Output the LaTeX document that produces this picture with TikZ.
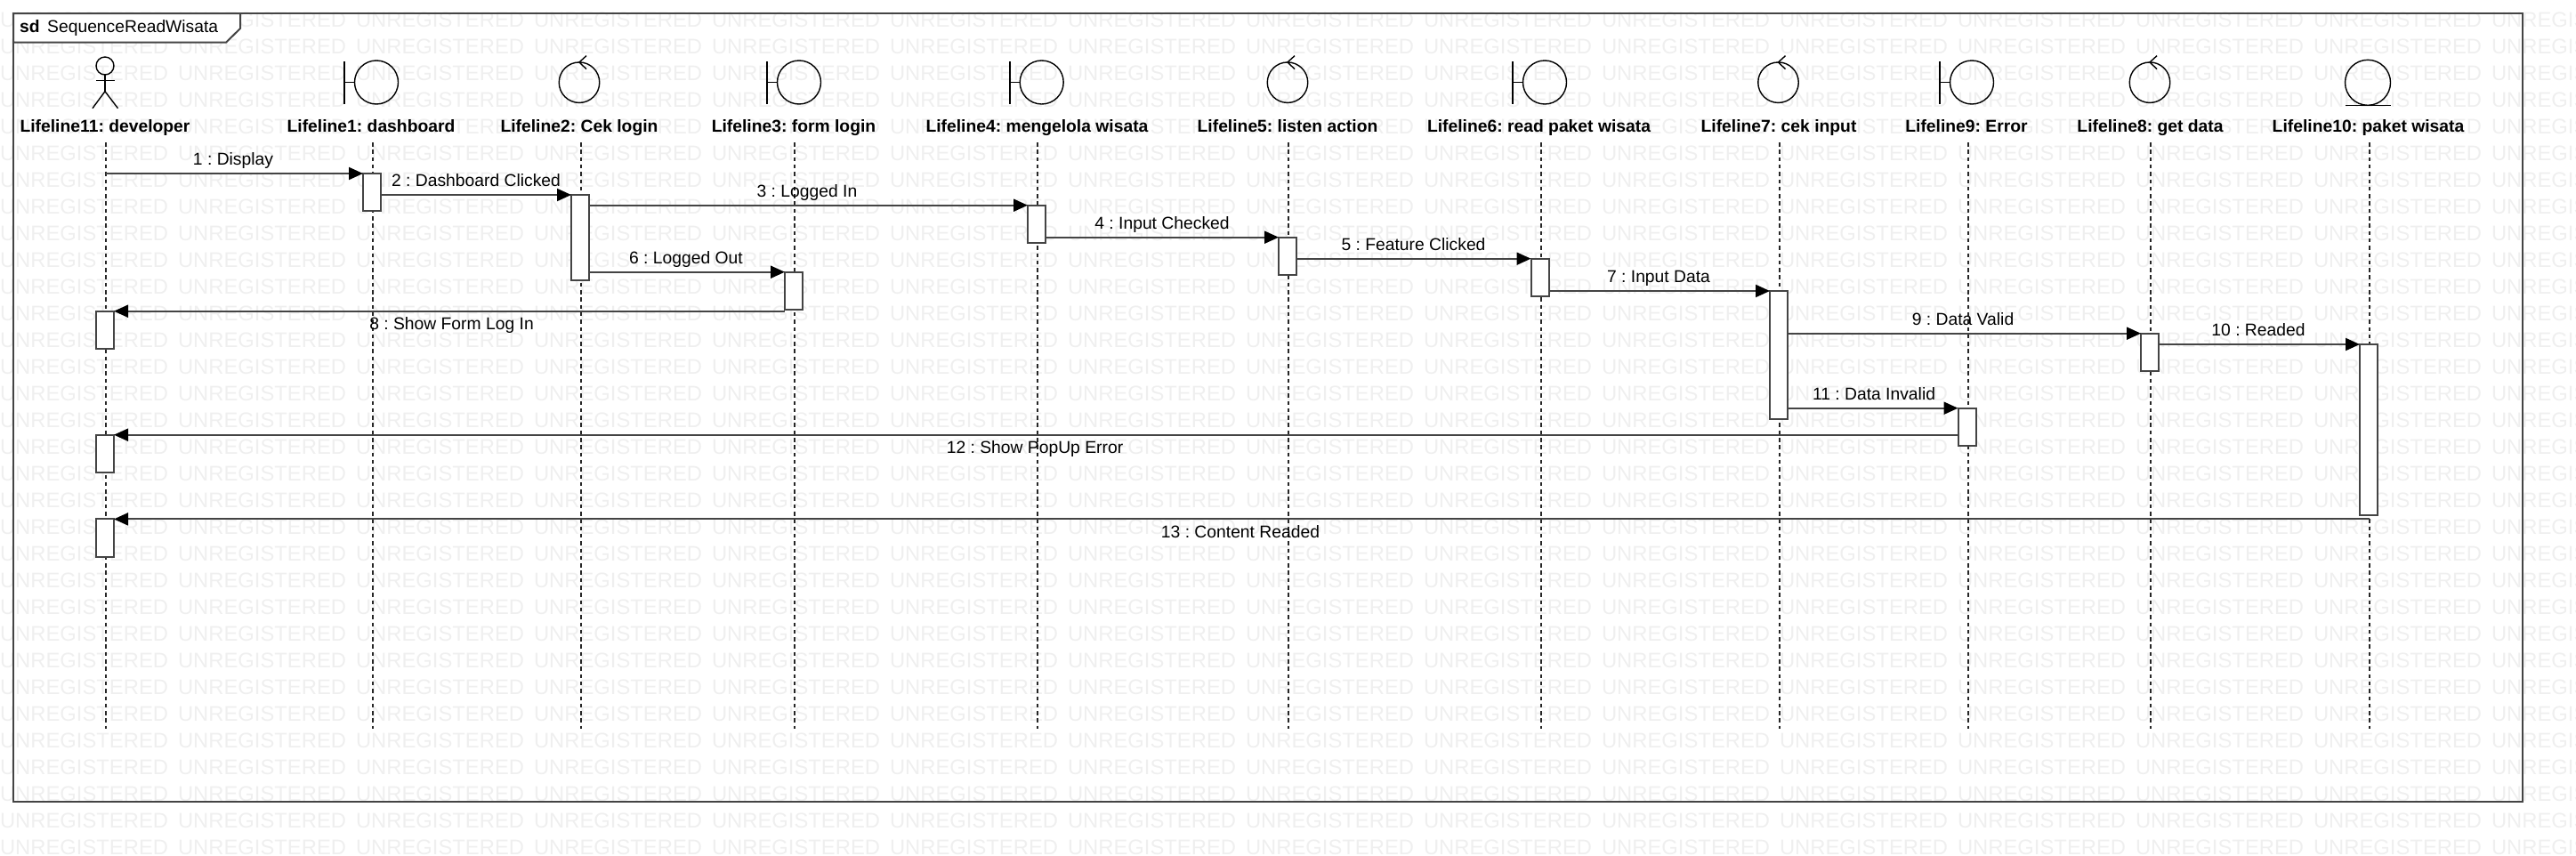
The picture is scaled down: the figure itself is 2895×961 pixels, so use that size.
\documentclass[tikz,border=0pt]{standalone}
\usepackage{fontspec}
\setmainfont{Liberation Sans}
\usetikzlibrary{arrows.meta,calc}
\definecolor{wmgray}{HTML}{EFEFEF}
\definecolor{linegray}{HTML}{444444}
\newcommand{\txtfont}{\fontsize{19.3}{23}\selectfont\frenchspacing}
\tikzset{
  wmark/.style={anchor=base west,inner sep=0pt,outer sep=0pt,text=wmgray,font=\fontsize{23.8}{29}\selectfont},
  frameline/.style={draw=linegray,line width=2pt},
  iconline/.style={draw=black,line width=1.4pt},
  ring/.style={circle,iconline,inner sep=0pt,outer sep=0pt,minimum size=#1},
  lifeline/.style={draw=black!85,line width=1.3pt,dash pattern=on 4.5pt off 3.8pt},
  activ/.style={rectangle,draw=linegray,line width=2pt,fill=white,inner sep=0pt,outer sep=0pt,minimum width=20pt,anchor=north},
  msg/.style={draw=linegray,line width=2pt,-{Triangle[length=16pt,width=14pt,color=black]}},
  lifename/.style={anchor=base,inner sep=0pt,font=\txtfont\bfseries},
  msgname/.style={anchor=base,inner sep=0pt,font=\txtfont},
}
\newcommand{\boundaryicon}[3]{%
  \node[ring=49pt] (#1) at (#3,92.5) {};
  \coordinate (#1-bar) at (#2,92.5);
  \coordinate (#1-bartop) at (#2,69);
  \coordinate (#1-barbot) at (#2,117);
  \draw[iconline] (#1-bartop) -- (#1-barbot);
  \draw[iconline] (#1-bar) -- (#1.west);
}
\newcommand{\controlicon}[2]{%
  \node[ring=45.5pt] (#1) at (#2,92.7) {};
  \coordinate (#1-up) at ($(#1.north)+(8,-7.3)$);
  \coordinate (#1-dn) at ($(#1.north)+(8,7.7)$);
  \draw[iconline] (#1-up) -- (#1.north) -- (#1-dn);
}
\begin{document}
\begin{tikzpicture}[x=1pt,y=-1pt]
\useasboundingbox (0,0) rectangle (2895,961);
% watermark
\foreach \col in {0,...,14}{
  \foreach \row in {0,...,31}{
    \node[wmark] (wm-\col-\row) at ({\col*200},{30+\row*30}) {UNREGISTERED};
  }
}
% frame
\coordinate (frTL) at (15,15);
\coordinate (frBR) at (2835,901);
\draw[frameline] (frTL) rectangle (frBR);
\draw[frameline,fill=white] (15,15) -- (270,15) -- (270,32) -- (254,47.7) -- (15,47.7) -- cycle;
\node[anchor=base west,inner sep=0pt,font=\txtfont\bfseries] (sd) at (22,36.7) {sd};
\node[anchor=base west,inner sep=0pt,font=\txtfont] (title) at (53,36.7) {SequenceReadWisata};
% icons
\node[ring=20pt] (actorhead) at (118,74) {};
\coordinate (actorhip) at (118,102.7);
\coordinate (actorarmL) at (108,90.3);
\coordinate (actorarmR) at (128.5,90.3);
\coordinate (actorlegL) at (104,121.7);
\coordinate (actorlegR) at (132.5,121.7);
\draw[iconline] (actorhead.south) -- (actorhip);
\draw[iconline] (actorarmL) -- (actorarmR);
\draw[iconline] (actorlegL) -- (actorhip) -- (actorlegR);
\boundaryicon{b1}{387}{423}
\boundaryicon{b3}{862}{898}
\boundaryicon{b4}{1135}{1170.7}
\boundaryicon{b6}{1700}{1736}
\boundaryicon{b9}{2180}{2216}
\controlicon{c2}{651}
\controlicon{c5}{1447}
\controlicon{c7}{1998.5}
\controlicon{c8}{2416}
\node[ring=51pt] (e10) at (2661,92.8) {};
\coordinate (e10-l) at (2635.6,118.3);
\coordinate (e10-r) at (2687,118.3);
\draw[iconline] (e10-l) -- (e10-r);
% lifeline names
\node[lifename] (n11) at (118,148) {Lifeline11: developer};
\node[lifename] (n1) at (417,148) {Lifeline1: dashboard};
\node[lifename] (n2) at (651,148) {Lifeline2: Cek login};
\node[lifename] (n3) at (892,148) {Lifeline3: form login};
\node[lifename] (n4) at (1165.5,148) {Lifeline4: mengelola wisata};
\node[lifename] (n5) at (1447,148) {Lifeline5: listen action};
\node[lifename] (n6) at (1729.5,148) {Lifeline6: read paket wisata};
\node[lifename] (n7) at (1999,148) {Lifeline7: cek input};
\node[lifename] (n9) at (2210,148) {Lifeline9: Error};
\node[lifename] (n8) at (2416.5,148) {Lifeline8: get data};
\node[lifename] (n10) at (2661.5,148) {Lifeline10: paket wisata};
% lifelines
\foreach \nm/\xx in {L11/119,L1/419,L2/653,L3/893,L4/1166,L5/1448,L6/1732,L7/2000,L9/2212,L8/2417,L10/2663}{
  \coordinate (\nm-top) at (\xx,160);
  \coordinate (\nm-bot) at (\xx,819);
  \draw[lifeline] (\nm-top) -- (\nm-bot);
}
% activations
\node[activ,minimum height=42pt] (a1) at (418,195) {};
\node[activ,minimum height=96pt] (a2) at (652,219) {};
\node[activ,minimum height=42.3pt] (a3) at (892,305.7) {};
\node[activ,minimum height=42.3pt] (a4) at (1165,230.7) {};
\node[activ,minimum height=42.3pt] (a5) at (1447,266.7) {};
\node[activ,minimum height=42pt] (a6) at (1730.5,290.7) {};
\node[activ,minimum height=144pt] (a7) at (1999,327) {};
\node[activ,minimum height=42.3pt] (a8) at (2416,374.7) {};
\node[activ,minimum height=42.6pt] (a9) at (2210.5,458.7) {};
\node[activ,minimum height=192pt] (a10) at (2662,387) {};
\node[activ,minimum height=41.8pt] (a11a) at (118,349.7) {};
\node[activ,minimum height=42.3pt] (a11b) at (118,488.7) {};
\node[activ,minimum height=42.6pt] (a11c) at (118,583.4) {};
% messages
\draw[msg] (L11-top |- a1.north) -- (a1.north west);
\draw[msg] (a1.east |- a2.north) -- (a2.north west);
\draw[msg] (a2.east |- a4.north) -- (a4.north west);
\draw[msg] (a4.east |- a5.north) -- (a5.north west);
\draw[msg] (a5.east |- a6.north) -- (a6.north west);
\draw[msg] (a2.east |- a3.north) -- (a3.north west);
\draw[msg] (a6.east |- a7.north) -- (a7.north west);
\draw[msg] (a3.west |- a11a.north) -- (a11a.north east);
\draw[msg] (a7.east |- a8.north) -- (a8.north west);
\draw[msg] (a8.east |- a10.north) -- (a10.north west);
\draw[msg] (a7.east |- a9.north) -- (a9.north west);
\draw[msg] (a9.west |- a11b.north) -- (a11b.north east);
\draw[msg] (L10-top |- a11c.north) -- (a11c.north east);
% message labels
\node[msgname] (m1) at (262,185.3) {1 : Display};
\node[msgname] (m2) at (535,209.3) {2 : Dashboard Clicked};
\node[msgname] (m3) at (907,221) {3 : Logged In};
\node[msgname] (m4) at (1306,257) {4 : Input Checked};
\node[msgname] (m5) at (1588.5,281) {5 : Feature Clicked};
\node[msgname] (m6) at (771,296) {6 : Logged Out};
\node[msgname] (m7) at (1864,317.3) {7 : Input Data};
\node[msgname] (m8) at (507.5,370) {8 : Show Form Log In};
\node[msgname] (m9) at (2206,365) {9 : Data Valid};
\node[msgname] (m10) at (2538,377.3) {10 : Readed};
\node[msgname] (m11) at (2106,449) {11 : Data Invalid};
\node[msgname] (m12) at (1163,509.3) {12 : Show PopUp Error};
\node[msgname] (m13) at (1394,604) {13 : Content Readed};
\end{tikzpicture}
\end{document}
